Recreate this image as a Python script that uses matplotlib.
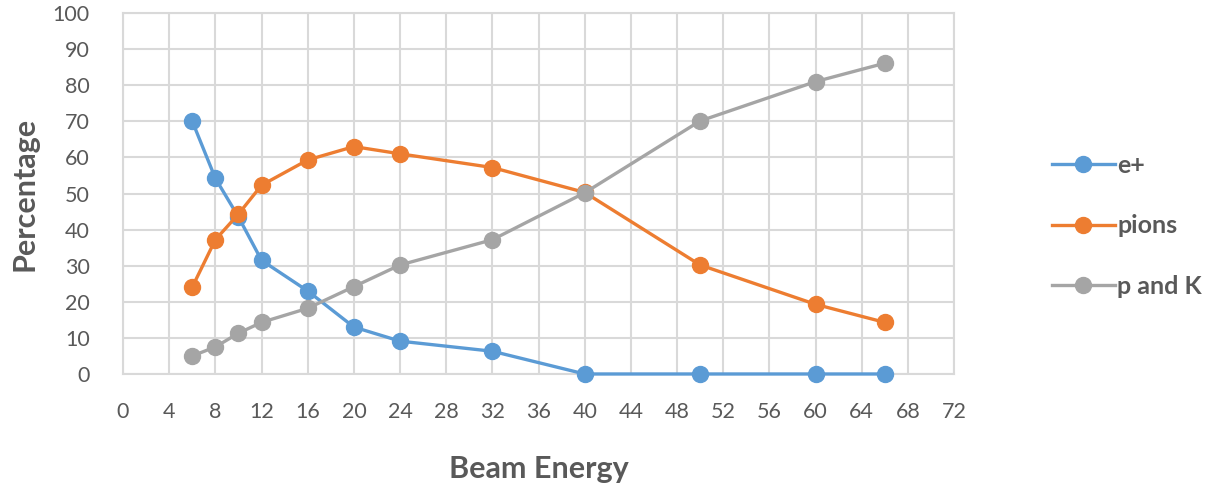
import matplotlib.pyplot as plt
from matplotlib.ticker import MultipleLocator

plt.rcParams["font.family"] = ["Lato", "DejaVu Sans"]

beam_energy = [6, 8, 10, 12, 16, 20, 24, 32, 40, 50, 60, 66]
e_plus = [70, 54.2, 43.5, 31.5, 23, 13, 9.1, 6.3, 0, 0, 0, 0]
pions = [24.1, 37.2, 44.3, 52.3, 59.3, 63, 61, 57.2, 50.3, 30.2, 19.3, 14.3]
p_and_k = [5, 7.5, 11.3, 14.3, 18.2, 24.2, 30.2, 37.2, 50.2, 70.1, 81, 86.1]

series = [("e+", e_plus, "#5B9BD5"),
          ("pions", pions, "#ED7D31"),
          ("p and K", p_and_k, "#A5A5A5")]

fig = plt.figure(figsize=(12.28, 4.83), dpi=100)
ax = fig.add_axes([0.1002, 0.2257, 0.6767, 0.7473])

for name, vals, color in series:
    ax.plot(beam_energy, vals, color=color, lw=2.4, marker="o", ms=11.5,
            label=name, clip_on=False, zorder=3)

ax.set_xlim(0, 72)
ax.set_ylim(0, 100)
ax.xaxis.set_major_locator(MultipleLocator(4))
ax.yaxis.set_major_locator(MultipleLocator(10))
ax.grid(True, color="#D9D9D9", lw=1.5)
ax.set_axisbelow(True)
for s in ax.spines.values():
    s.set_color("#D9D9D9")
    s.set_linewidth(1.5)
ax.tick_params(length=0, colors="#595959", labelsize=15.5, pad=20)
ax.tick_params(axis="y", pad=24)

ax.set_xlabel("Beam Energy", fontsize=22, fontweight="bold", color="#595959", labelpad=24)
ax.set_ylabel("Percentage", fontsize=22, fontweight="bold", color="#595959", labelpad=10)

ax.legend(loc="center left", bbox_to_anchor=(1.106, 0.41), frameon=False,
          labelcolor="#595959", handlelength=2.5, handletextpad=0.1,
          labelspacing=1.5, borderaxespad=0, prop={"weight": "bold", "size": 18})

fig.savefig("out.png", dpi=100)
